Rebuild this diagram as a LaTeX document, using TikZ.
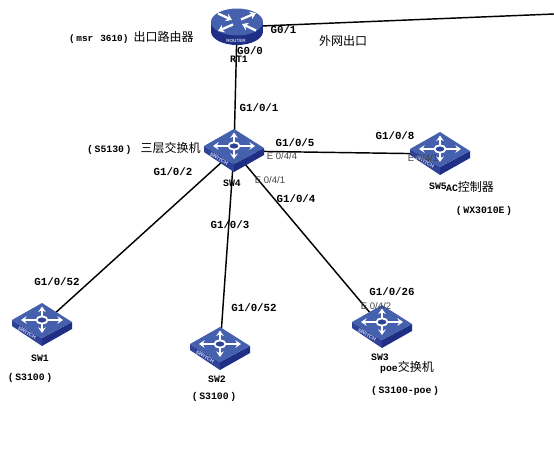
\documentclass[tikz,border=0pt]{standalone}
\usepackage{fontspec}
\setmainfont{Liberation Mono}[BoldFont={Liberation Mono Bold}]
\newfontfamily\cjkf{Noto Sans CJK SC}
\newfontfamily\sansf{Liberation Sans}
\usetikzlibrary{arrows.meta}
\definecolor{faceblue}{HTML}{4560AC}
\definecolor{sideblue}{HTML}{2E4398}
\definecolor{frontblue}{HTML}{1F2F85}
\definecolor{portgray}{HTML}{444444}
\definecolor{palelabel}{HTML}{C8D0EC}
\tikzset{
  hub/.style={inner sep=0pt,minimum size=0pt,outer sep=0pt},
  wire/.style={draw=black,line width=1.45pt},
  lbl/.style={inner sep=0pt,font=\bfseries\fontsize{10.8}{12}\selectfont,text=black},
  devname/.style={inner sep=0pt,font=\bfseries\fontsize{9.8}{11}\selectfont,text=black},
  port/.style={inner sep=0pt,font=\sansf\fontsize{9.5}{11}\selectfont,text=portgray},
  glyph/.style={draw=white,line width=2.1pt,-{Stealth[length=5.5pt,width=7.5pt]}},
  rglyph/.style={draw=white,line width=2.3pt,-{Stealth[length=6pt,width=8pt]}},
}
\newcommand{\cj}[1]{{\mdseries\cjkf\fontsize{12}{14}\selectfont #1}}
% icon of a switch; #1,#2 = reference point of the icon
\newcommand{\switchicon}[2]{%
  \begin{scope}[shift={(#1,#2)}]
    \fill[sideblue] (-30,-5) -- (0,13) -- (0,21) -- (-30,1) -- cycle;
    \fill[frontblue] (0,13) -- (30,-3) -- (30,4) -- (0,21) -- cycle;
    \fill[faceblue] (0,-22) -- (-30,-5) -- (0,13) -- (30,-3) -- cycle;
    \draw[glyph] (-6,-5) -- (-21,-5);
    \draw[glyph] (6,-5) -- (21,-5);
    \draw[glyph] (0,-9) -- (0,-18.5);
    \draw[glyph] (0,-1) -- (0,8);
    \draw[white,line width=1.8pt,fill=sideblue] (0,-5) ellipse (5.5 and 3.6);
    \node[rotate=-32,inner sep=0pt,text=palelabel,font=\sansf\bfseries\fontsize{5.2}{6}\selectfont] at (-15,8) {SWITCH};
  \end{scope}}
\begin{document}
\begin{tikzpicture}[x=1pt,y=-1pt]
\useasboundingbox (0,0) rectangle (554,471);
% anchor nodes
\node[hub] (rt1) at (237,27) {};
\node[hub] (sw4) at (234,151) {};
\node[hub] (sw5) at (440,154) {};
\node[hub] (sw1) at (42,325) {};
\node[hub] (sw2) at (220,349) {};
\node[hub] (sw3) at (382,327) {};
\coordinate (wan) at (554,14);
% connectors
\draw[wire] (rt1) -- (wan);
\draw[wire] (rt1) -- (sw4);
\draw[wire] (sw4) -- (sw5);
\draw[wire] (sw4) -- (sw1);
\draw[wire] (sw4) -- (sw2);
\draw[wire] (sw4) -- (sw3);
% router
\begin{scope}[shift={(237,22)}]
  \fill[frontblue] (0,9.5) ellipse (26 and 13.5);
  \fill[frontblue] (-26,0) rectangle (26,9.5);
  \fill[faceblue] (0,0) ellipse (26 and 13.5);
  \draw[rglyph] (-19,-8.5) -- (-5,-2);
  \draw[rglyph] (19,8.5) -- (5,2);
  \draw[rglyph] (4,-2.5) -- (19,-9);
  \draw[rglyph] (-4,2.5) -- (-19,9);
  \node[inner sep=0pt,text=palelabel,font=\sansf\bfseries\fontsize{4.6}{6}\selectfont] at (-1,18.5) {ROUTER};
\end{scope}
% switches
\switchicon{234}{151}
\switchicon{440}{154}
\switchicon{42}{325}
\switchicon{220}{349}
\switchicon{382}{327}
% texts
\node[lbl,font=\bfseries\fontsize{9.4}{11}\selectfont,anchor=west] (t1) at (69,37) {(\,msr\hspace{7pt}3610)\hspace{5pt}\cj{出口路由器}};
\node[lbl] (t2) at (283.5,30) {G0/1};
\node[inner sep=0pt] (t3) at (343,41) {\cj{外网出口}};
\node[lbl] (t4) at (250,51) {G0/0};
\node[devname] (t5) at (239,59) {RT1};
\node[lbl] (t6) at (259,108) {G1/0/1};
\node[lbl,font=\bfseries\fontsize{9.8}{11}\selectfont,anchor=west] (t7) at (87,148) {(\,S5130\,)\hspace{9pt}\cj{三层交换机}};
\node[lbl] (t8) at (173,172) {G1/0/2};
\node[devname] (t9) at (232,183) {SW4};
\node[port] (t10) at (270,180) {E 0/4/1};
\node[lbl] (t11) at (295,143) {G1/0/5};
\node[port] (t12) at (282,156) {E 0/4/4};
\node[lbl] (t13) at (395,136) {G1/0/8};
\node[port] (t14) at (423,158) {E 0/4/1};
\node[devname] (t15) at (438,186) {SW5};
\node[inner sep=0pt,font=\bfseries\fontsize{9.8}{11}\selectfont] (t16) at (470,187) {AC\cj{控制器}};
\node[devname] (t17) at (484,211) {(\,WX3010E\,)};
\node[lbl] (t18) at (296,199) {G1/0/4};
\node[lbl] (t19) at (230,225) {G1/0/3};
\node[lbl] (t20) at (57,282) {G1/0/52};
\node[devname] (t21) at (40,358) {SW1};
\node[devname] (t22) at (30,378) {(\,S3100\,)};
\node[lbl] (t23) at (254,308) {G1/0/52};
\node[devname] (t24) at (217,379) {SW2};
\node[devname] (t25) at (214,397) {(\,S3100\,)};
\node[lbl] (t26) at (392,292) {G1/0/26};
\node[port] (t27) at (376,306) {E 0/4/2};
\node[devname] (t28) at (380,357) {SW3};
\node[inner sep=0pt,font=\bfseries\fontsize{9.8}{11}\selectfont] (t29) at (407,367) {poe\cj{交换机}};
\node[devname] (t30) at (405,391) {(\,S3100-poe\,)};
\end{tikzpicture}
\end{document}
